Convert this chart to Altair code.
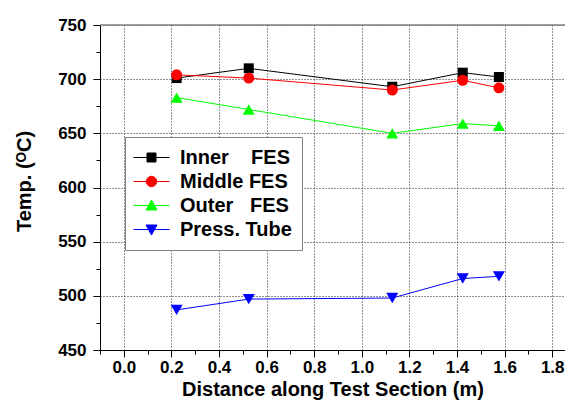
import math
import altair as alt
import pandas as pd

# ---- data ----
series = ["Inner\u00a0\u00a0\u00a0\u00a0FES", "Middle FES", "Outer\u00a0\u00a0\u00a0FES", "Press. Tube"]
distance = [0.222, 0.525, 1.128, 1.424, 1.576]
inner = [701, 710, 693, 706, 702]
middle = [704, 701, 690, 699, 692]
outer = [683, 672, 650, 659, 657]
press = [487, 497, 498, 516, 518]

colors = ["#000000", "#FF0000", "#00FF00", "#0000FF"]
shapes = ["square", "circle", "triangle-up", "triangle-down"]
sizes = [100, 121, 144, 144]


def poly(pts):
    return "M" + "L".join(f"{x:.3f},{y:.3f}" for x, y in pts) + "Z"


LINE = "M-1.8,0L1.8,0"
circle_pts = [(0.52 * math.cos(2 * math.pi * k / 20), 0.52 * math.sin(2 * math.pi * k / 20)) for k in range(20)]
legend_paths = [
    LINE + poly([(-0.45, -0.45), (0.45, -0.45), (0.45, 0.45), (-0.45, 0.45)]),
    LINE + poly(circle_pts),
    LINE + poly([(-0.55, 0.45), (0.55, 0.45), (0, -0.55)]),
    LINE + poly([(-0.55, -0.45), (0.55, -0.45), (0, 0.55)]),
]

x_ticks = [round(-0.1 + 0.1 * i, 1) for i in range(20)]
y_ticks = list(range(450, 751, 25))

rows = []
for name, vals in zip(series, [inner, middle, outer, press]):
    for d, v in zip(distance, vals):
        rows.append({"series": name, "distance": d, "temp": v})
df = pd.DataFrame(rows)

FONT = "Liberation Sans"
PAD_L, PAD_T = 92, 17
W, H = 465, 325

x_axis = alt.Axis(
    values=x_ticks,
    labelExpr="abs(round(datum.value*10)) % 2 == 0 ? format(datum.value, '.1f') : ''",
    tickSize={"condition": {"test": "abs(round(datum.value*10)) % 2 == 0", "value": 7}, "value": 4},
    gridOpacity={"condition": {"test": "abs(round(datum.value*10)) % 2 == 0", "value": 1}, "value": 0},
    labelPadding=2,
    title="Distance along Test Section (m)",
    titleBaseline="alphabetic",
    titleY=45,
)
y_axis = alt.Axis(
    values=y_ticks,
    labelExpr="datum.value % 50 == 0 ? datum.label : ''",
    tickSize={"condition": {"test": "datum.value % 50 == 0", "value": 7}, "value": 4},
    gridOpacity={"condition": {"test": "datum.value % 50 == 0", "value": 1}, "value": 0},
    labelPadding=7,
    title="Temp. (\u1D3CC)",
    titleBaseline="alphabetic",
    titleAngle=270,
    titleX=-70,
    titleY=156,
)

xs = alt.X("distance:Q", scale=alt.Scale(domain=[-0.1, -0.1 + W / 238.0], nice=False, zero=False), axis=x_axis)
ys = alt.Y("temp:Q", scale=alt.Scale(domain=[450, 750], nice=False, zero=False), axis=y_axis)

base = alt.Chart(df)
line_layers = []
point_layers = []
for name, col, shp, sz in zip(series, colors, shapes, sizes):
    sub = base.transform_filter(alt.datum.series == name)
    line_layers.append(sub.mark_line(strokeWidth=1, color=col).encode(x=xs, y=ys))
    point_layers.append(
        sub.mark_point(shape=shp, filled=True, size=sz, opacity=1, color=col).encode(x=xs, y=ys)
    )

leg = alt.Legend(
    title=None, orient="none", legendX=25, legendY=112,
    symbolSize=400, symbolStrokeWidth=1, symbolOpacity=1,
    labelFont=FONT, labelFontSize=20, labelFontWeight="bold", labelColor="black",
    rowPadding=3, padding=10, symbolOffset=6, labelOffset=18,
    strokeColor="#808080", fillColor="white",
)
legend_layer = (
    base.mark_point(filled=True, clip=True)
    .encode(
        x=alt.value(-3000), y=alt.value(-3000),
        fill=alt.Fill("series:N", scale=alt.Scale(domain=series, range=colors), legend=leg),
        stroke=alt.Stroke("series:N", scale=alt.Scale(domain=series, range=colors), legend=leg),
        shape=alt.Shape("series:N", scale=alt.Scale(domain=series, range=legend_paths), legend=leg),
    )
)

top_line = alt.Chart(pd.DataFrame({"v": [750]})).mark_rule(color="#808080", strokeWidth=1.5).encode(
    y=alt.Y("v:Q", scale=alt.Scale(domain=[450, 750], nice=False, zero=False), axis=y_axis),
    x=alt.value(0), x2=alt.value(W),
)

chart = (
    alt.layer(*line_layers, *point_layers, top_line, legend_layer)
    .properties(width=W, height=H,
                padding={"left": PAD_L, "top": PAD_T, "right": 0, "bottom": 392 - PAD_T - H},
                autosize=alt.AutoSizeParams(type="none"))
    .configure_view(stroke=None)
    .configure_axis(
        labelFont=FONT, labelFontSize=17, labelFontWeight="bold", labelColor="black",
        titleFont=FONT, titleFontSize=20, titleFontWeight="bold", titleColor="black",
        domainColor="black", domainWidth=1, tickColor="black", tickWidth=1,
        gridColor="#222222", gridDash=[1, 2], gridWidth=1,
    )
)

chart.save("out.html", embed_options={"renderer": "svg", "actions": False})
